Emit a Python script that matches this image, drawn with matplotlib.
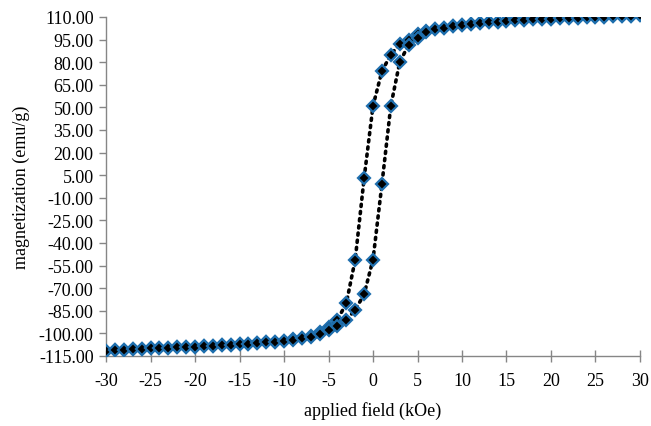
import matplotlib.pyplot as plt
import numpy as np

# descending branch: field swept from +30 to -30 kOe
field_down = list(range(30, -31, -1))
mag_down = [111.0, 110.8, 110.6, 110.4, 110.2, 110.0, 109.8, 109.6, 109.4, 109.2,
            108.9, 108.6, 108.3, 108.0, 107.7, 107.3, 106.9, 106.4, 105.9, 105.3,
            104.6, 103.8, 102.9, 101.8, 100.5, 98.5, 95.0, 92.0, 85.0, 74.0,
            51.0, 3.0, -51.0, -80.0, -91.0, -96.0, -99.0, -101.5, -103.0, -104.0,
            -105.0, -105.5, -106.0, -106.4, -106.8, -107.2, -107.6, -107.9, -108.2, -108.5,
            -108.8, -109.1, -109.3, -109.5, -109.8, -110.0, -110.3, -110.6, -110.9, -111.2,
            -111.5]

# ascending branch: field swept from -30 to +30 kOe
field_up = list(range(-30, 31))
mag_up = [-111.5, -111.2, -110.9, -110.6, -110.3, -110.0, -109.8, -109.5, -109.3, -109.1,
          -108.8, -108.5, -108.2, -107.9, -107.6, -107.2, -106.8, -106.4, -106.0, -105.5,
          -105.0, -104.2, -103.3, -102.2, -100.6, -97.5, -95.0, -91.0, -84.5, -74.0,
          -51.0, -1.0, 51.0, 80.0, 91.5, 96.0, 100.0, 101.8, 102.9, 103.8,
          104.6, 105.3, 105.9, 106.4, 106.9, 107.3, 107.7, 108.0, 108.3, 108.6,
          108.9, 109.2, 109.4, 109.6, 109.8, 110.0, 110.2, 110.4, 110.6, 110.8,
          111.0]

xticks = list(range(-30, 31, 5))
yticks = list(range(-115, 111, 15))

plt.rcParams['font.family'] = ['Liberation Serif', 'DejaVu Serif']

fig = plt.figure(figsize=(6.51, 4.27), dpi=100)
ax = fig.add_axes([0.163, 0.164, 0.820, 0.794])

blue = '#1f6fae'
for fx, my in [(field_down, mag_down), (field_up, mag_up)]:
    ax.plot(fx, my, color='black', linestyle=(0, (0.6, 1.4)), linewidth=2.6,
            dash_capstyle='round', zorder=2)
for fx, my in [(field_down, mag_down), (field_up, mag_up)]:
    ax.plot(fx, my, linestyle='none', marker='D', markersize=6.3,
            markerfacecolor='black', markeredgecolor=blue, markeredgewidth=1.6, zorder=3)

ax.set_xlim(-30, 30)
ax.set_ylim(-115, 110)
ax.set_xticks(xticks)
ax.set_xticklabels([str(t) for t in xticks])
ax.set_yticks(yticks)
ax.set_yticklabels([f'{t:.2f}' for t in yticks])

for s in ['top', 'right']:
    ax.spines[s].set_visible(False)
for s in ['left', 'bottom']:
    ax.spines[s].set_color('#868686')
    ax.spines[s].set_linewidth(1.0)

ax.tick_params(axis='x', direction='inout', length=9, width=1, color='#868686',
               labelsize=13, pad=7)
ax.tick_params(axis='y', direction='out', length=5, width=1, color='#868686',
               labelsize=13, pad=4)

ax.set_xlabel('applied field (kOe)', fontsize=13, labelpad=9)
ax.set_ylabel('magnetization (emu/g)', fontsize=13, labelpad=6)

fig.savefig('out.png', dpi=100)
